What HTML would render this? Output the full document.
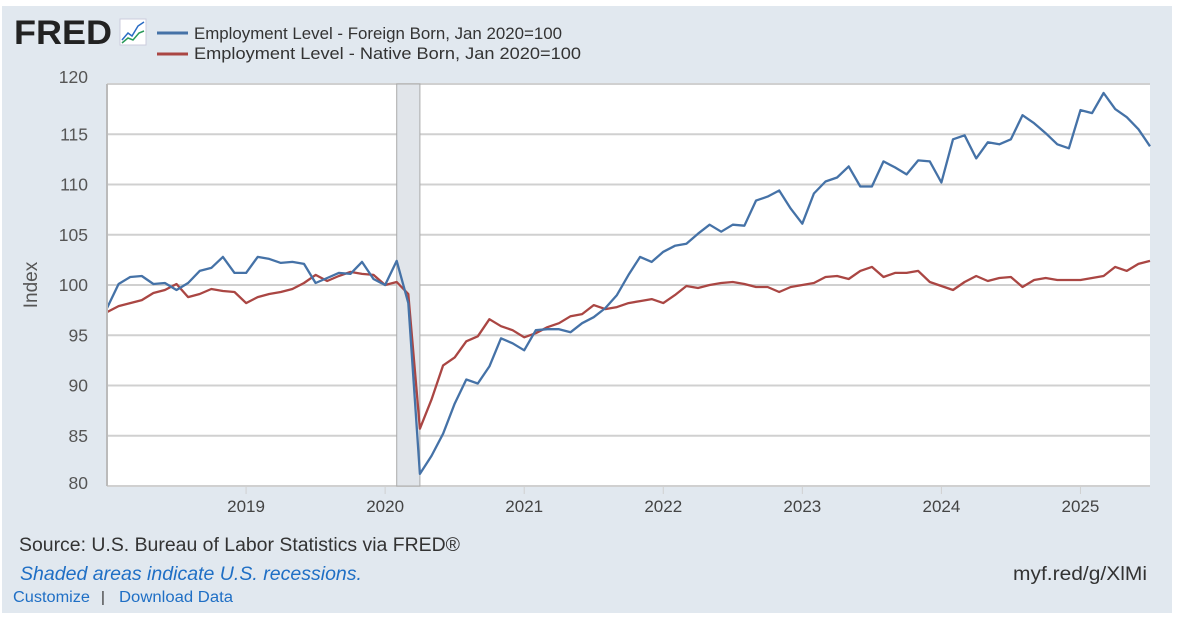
<!DOCTYPE html>
<html><head><meta charset="utf-8"><style>
body{margin:0;background:#fff;width:1178px;height:622px;overflow:hidden;font-family:"Liberation Sans",sans-serif;}
#panel{position:absolute;left:2px;top:6px;width:1170px;height:607px;background:#e1e8ef;}
svg{position:absolute;left:0;top:0;}
</style></head><body>
<div id="panel"></div>
<svg id="chart" width="1178" height="622">
<text x="14" y="44" font-size="34" font-weight="bold" fill="#222" textLength="98" lengthAdjust="spacingAndGlyphs">FRED</text>
<g>
<rect x="120" y="19" width="26" height="26" fill="#fff" stroke="#ccd"/>
<polyline points="122,40 128,33 132,36 138,26 144,22" fill="none" stroke="#2a6cc4" stroke-width="1.5"/>
<polyline points="122,43 128,38 133,40 139,33 144,31" fill="none" stroke="#2a9a5a" stroke-width="1.5"/>
</g>
<g>
<line x1="157" y1="33" x2="188" y2="33" stroke="#4572a7" stroke-width="3"/>
<text x="194" y="39" font-size="17" fill="#333" textLength="368" lengthAdjust="spacingAndGlyphs">Employment Level - Foreign Born, Jan 2020=100</text></g>
<g>
<line x1="157" y1="54" x2="188" y2="54" stroke="#aa4643" stroke-width="3"/>
<text x="194" y="59" font-size="17" fill="#333" textLength="387" lengthAdjust="spacingAndGlyphs">Employment Level - Native Born, Jan 2020=100</text></g>
<rect x="107" y="84" width="1043" height="402" fill="#fff"/>
<g id="grid"></g><g id="rec"></g><g id="series"></g><g id="axes"></g>
<text x="37" y="285" font-size="19" fill="#555" text-anchor="middle" transform="rotate(-90 37 285)">Index</text>
<text x="19" y="551" font-size="19" fill="#333" textLength="441" lengthAdjust="spacingAndGlyphs">Source: U.S. Bureau of Labor Statistics via FRED®</text>
<text x="20" y="580" font-size="19.5" fill="#1f6fc5" font-style="italic" textLength="342" lengthAdjust="spacingAndGlyphs">Shaded areas indicate U.S. recessions.</text>
<text x="1013" y="580" font-size="19" fill="#333" textLength="134" lengthAdjust="spacingAndGlyphs">myf.red/g/XlMi</text>
<text x="13" y="602" font-size="15.5" fill="#1f6fc5" textLength="77" lengthAdjust="spacingAndGlyphs">Customize</text>
<text x="101" y="602" font-size="15" fill="#333">|</text>
<text x="119" y="602" font-size="15.5" fill="#1f6fc5" textLength="114" lengthAdjust="spacingAndGlyphs">Download Data</text>
</svg>
<script>
const foreignBorn=[97.7,100.1,100.8,100.9,100.1,100.2,99.5,100.2,101.4,101.7,102.8,101.2,101.2,102.8,102.6,102.2,102.3,102.1,100.2,100.7,101.2,101.1,102.3,100.6,100.0,102.4,98.2,81.2,83.0,85.2,88.2,90.6,90.2,91.9,94.7,94.2,93.5,95.5,95.6,95.6,95.3,96.2,96.8,97.7,99.0,101.0,102.8,102.3,103.3,103.9,104.1,105.1,106.0,105.3,106.0,105.9,108.4,108.8,109.4,107.6,106.1,109.1,110.3,110.7,111.8,109.8,109.8,112.3,111.7,111.0,112.4,112.3,110.2,114.5,114.9,112.6,114.2,114.0,114.5,116.9,116.1,115.1,114.0,113.6,117.4,117.1,119.1,117.5,116.7,115.5,113.8];
const nativeBorn=[97.3,97.9,98.2,98.5,99.2,99.5,100.1,98.8,99.1,99.6,99.4,99.3,98.2,98.8,99.1,99.3,99.6,100.2,101.0,100.4,100.9,101.3,101.1,101.0,100.0,100.3,99.1,85.7,88.6,92.0,92.8,94.4,94.9,96.6,95.9,95.5,94.8,95.2,95.8,96.2,96.9,97.1,98.0,97.6,97.8,98.2,98.4,98.6,98.2,99.0,99.9,99.7,100.0,100.2,100.3,100.1,99.8,99.8,99.3,99.8,100.0,100.2,100.8,100.9,100.6,101.4,101.8,100.8,101.2,101.2,101.4,100.3,99.9,99.5,100.3,100.9,100.4,100.7,100.8,99.8,100.5,100.7,100.5,100.5,100.5,100.7,100.9,101.8,101.4,102.1,102.4];
const yTicks=[80,85,90,95,100,105,110,115,120];
const xYears=[2019,2020,2021,2022,2023,2024,2025];
const startYear=2018;
const recessions=[[2020+1/12,2020+3/12]];
const NS="http://www.w3.org/2000/svg";
const X0=107,X1=1150,Y0=486,Y1=84;
const tMin=startYear, tMax=startYear+(foreignBorn.length-1)/12;
function xs(t){return X0+(t-tMin)/(tMax-tMin)*(X1-X0);}
function ys(v){return Y0-(v-80)/(120-80)*(Y0-Y1);}
function mk(tag,attrs,parent){const e=document.createElementNS(NS,tag);for(const k in attrs)e.setAttribute(k,attrs[k]);document.getElementById(parent).appendChild(e);return e;}
yTicks.forEach(v=>{
 const l=mk('line',{x1:X0,x2:X1,y1:ys(v),y2:ys(v),stroke:'#d0d0d0','stroke-width':2},'grid');
 
 
 const t=mk('text',{x:88,y:ys(v)+6-(v===120?7:0)+(v===80?-3:0),'font-size':17.5,fill:'#555','text-anchor':'end'},'axes');
 t.textContent=v;
 
 
});
xYears.forEach(yr=>{
 const t=mk('text',{x:xs(yr),y:512,'font-size':17,fill:'#444','text-anchor':'middle'},'axes');
 t.textContent=yr;
 
 
 const k=mk('line',{x1:xs(yr),x2:xs(yr),y1:Y0,y2:Y0+8,stroke:'#d0d0d0','stroke-width':1},'axes');
 
 
});
const bl=mk('line',{x1:X0,x2:X0,y1:Y1,y2:Y0,stroke:'#bbb','stroke-width':2},'axes');


recessions.forEach(r=>{
 const e=mk('rect',{x:xs(r[0]),y:Y1,width:xs(r[1])-xs(r[0]),height:Y0-Y1,fill:'#e1e5ea',stroke:'#aaa','stroke-width':1},'rec');
 
 
});
function series(arr,color,name){
 const pts=arr.map((v,i)=>xs(tMin+i/12).toFixed(1)+','+ys(v).toFixed(1)).join(' ');
 const p=mk('polyline',{points:pts,fill:'none',stroke:color,'stroke-width':2.3,'stroke-linejoin':'round'},'series');
 
 
}
series(nativeBorn,'#aa4643','native-born-line');
series(foreignBorn,'#4572a7','foreign-born-line');
</script>
</body></html>
